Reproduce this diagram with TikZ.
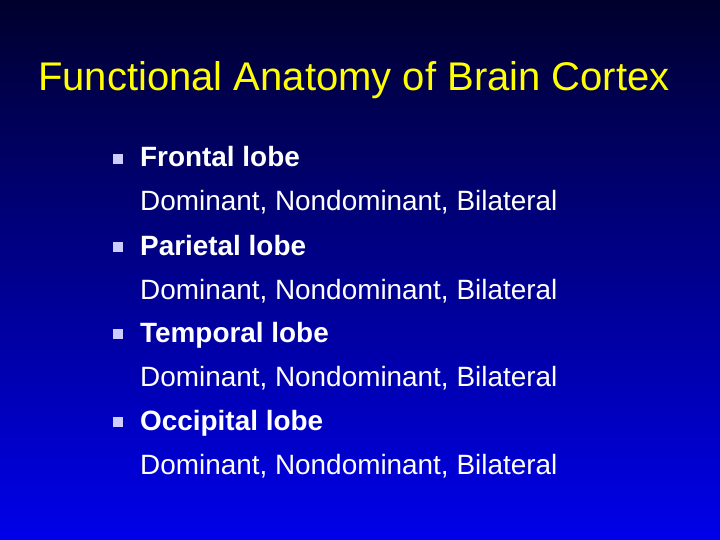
\documentclass[tikz,border=0pt]{standalone}
\usepackage{fontspec}
\setmainfont{Liberation Sans}
\begin{document}
\begin{tikzpicture}[x=1pt,y=-1pt,
  head/.style={anchor=base west,text=white,font=\fontsize{27.9}{32}\selectfont\bfseries,inner sep=0},
  sub/.style={anchor=base west,text=white,font=\fontsize{27.9}{32}\selectfont,inner sep=0},
  bul/.style={fill=white!80!blue,minimum size=10pt,inner sep=0}]
\shade[top color={rgb,255:red,0;green,0;blue,45}, bottom color={rgb,255:red,0;green,0;blue,235}] (0,0) rectangle (720,540);
\useasboundingbox (0,0) rectangle (720,540);
\node[anchor=base,text={rgb,255:red,255;green,255;blue,0},font=\fontsize{40}{46}\selectfont,inner sep=0] (title) at (354,91) {Functional Anatomy of Brain Cortex};
\foreach \i/\t/\y in {1/Frontal lobe/167,2/Parietal lobe/255,3/Temporal lobe/342,4/Occipital lobe/430}{
  \node[bul] (b\i) at (118,\y-8) {};
  \node[head] (h\i) at (140,\y) {\t};
  \node[sub] (s\i) at (140,\y+44) {Dominant, Nondominant, Bilateral};
}
\end{tikzpicture}
\end{document}
